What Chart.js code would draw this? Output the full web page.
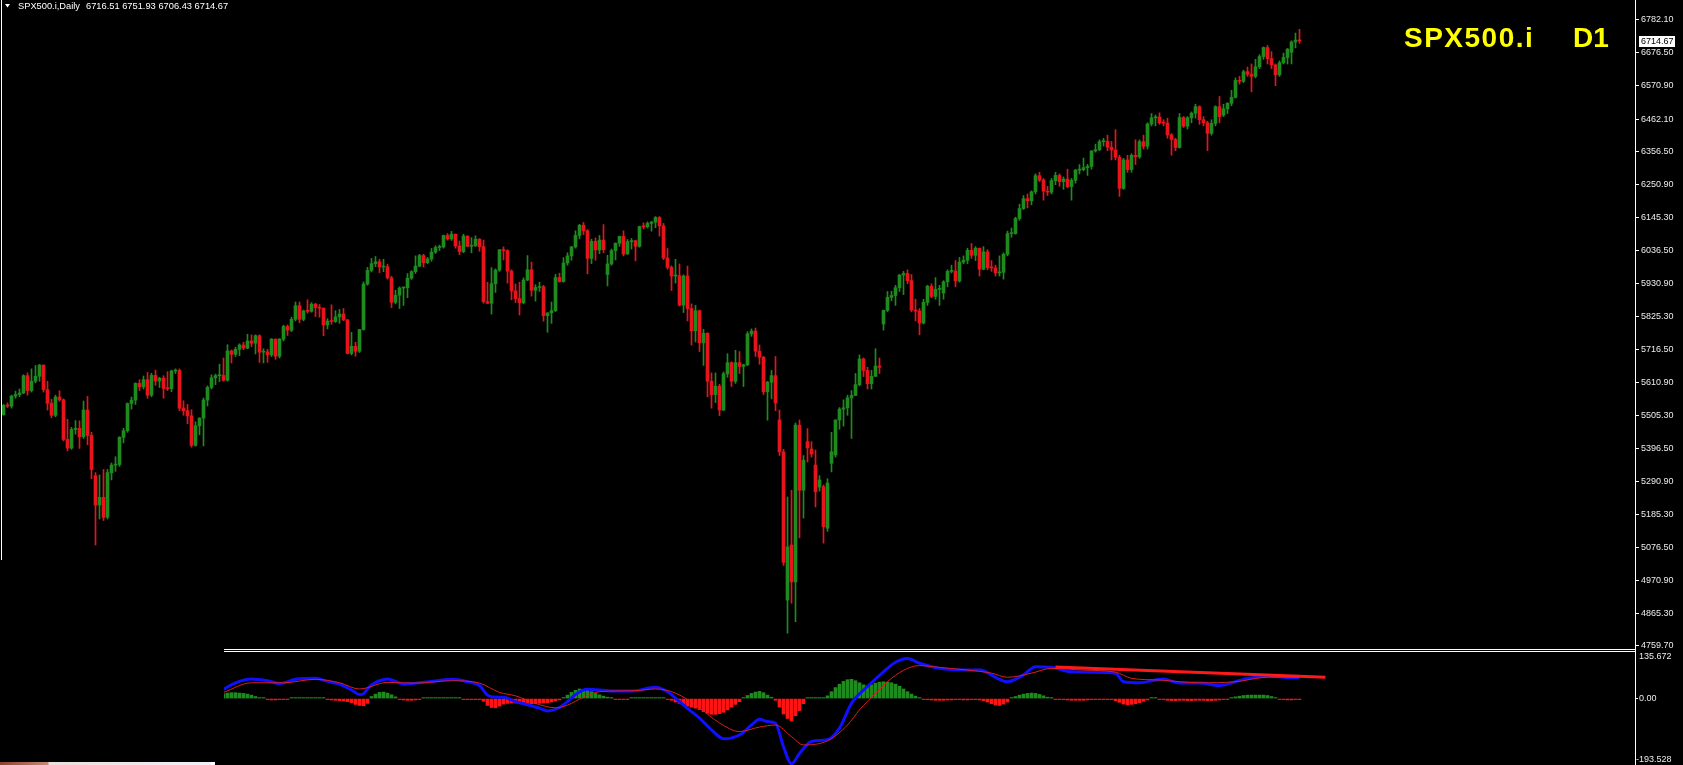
<!DOCTYPE html>
<html>
<head>
<meta charset="utf-8">
<title>SPX500.i Daily</title>
<script src="https://cdn.jsdelivr.net/npm/chart.js@4.4.1/dist/chart.umd.min.js"></script>
<style>
  html, body { margin: 0; padding: 0; background: #000; }
  body { width: 1683px; height: 765px; position: relative; overflow: hidden; }
  canvas { position: absolute; display: block; }
  #main { left: 0; top: 0; }
  #macd { left: 224px; top: 652px; }
  .line { position: absolute; background: #fff; }
  #task { position: absolute; left: 0; top: 762px; width: 215px; height: 3px;
    background: linear-gradient(90deg, #8e4030 0, #c48a78 48px, #e9dfda 49px, #eef0f8 211px, #fff 211px); }
</style>
</head>
<body>
<canvas id="main" width="1683" height="648"></canvas>
<canvas id="macd" width="1459" height="113"></canvas>
<div class="line" style="left:1px;top:0;width:1px;height:560px"></div>
<div class="line" style="left:224px;top:649px;width:1412px;height:1px"></div>
<div class="line" style="left:224px;top:651px;width:1412px;height:1px"></div>
<div class="line" style="left:1635px;top:0;width:1px;height:765px"></div>
<div id="task"></div>
<script>
// SPX500.i D1 + MACD, MT4 look
const symbol = 'SPX500.i';
const period = 'Daily';
const tf = 'D1';

const priceTicks = [6782.10, 6676.50, 6570.90, 6462.10, 6356.50, 6250.90, 6145.30, 6036.50, 5930.90, 5825.30,
  5716.50, 5610.90, 5505.30, 5396.50, 5290.90, 5185.30, 5076.50, 4970.90, 4865.30, 4759.70];
const macdTicks = [135.672, 0, -193.528];

// daily bars, oldest first
const opens = [
  5507,5537,5535,5567,5572,5577,5633,5585,5615,5631, 5667,5588,5544,5505,5564,5555,5427,5399,5459,5463,
  5436,5522,5440,5310,5215,5240,5176,5319,5344,5346, 5434,5455,5543,5554,5608,5597,5620,5570,5634,5616,
  5625,5592,5591,5648,5650,5528,5520,5503,5408,5471, 5496,5554,5595,5626,5633,5634,5618,5713,5702,5718,
  5732,5722,5745,5738,5762,5709,5710,5700,5751,5696, 5751,5792,5780,5815,5859,5815,5842,5841,5864,5853,
  5851,5797,5809,5808,5823,5832,5813,5705,5728,5712, 5782,5929,5973,5995,6001,5984,5985,5949,5870,5893,
  5916,5917,5948,5969,5987,6021,5998,6010,6032,6047, 6049,6086,6075,6090,6052,6034,6084,6051,6053,6074,
  6050,5872,5867,5930,5974,6040,6037,5971,5907,5882, 5869,5942,5975,5909,5918,5920,5827,5836,5843,5950,
  5937,5997,6020,6049,6086,6119,6101,6012,6067,6039, 6071,5960,5994,6037,6061,6083,6026,6066,6069,6051,
  6115,6114,6125,6129,6144,6117,6013,5983,5955,5956, 5861,5955,5850,5778,5843,5739,5770,5615,5572,5599,
  5522,5639,5675,5615,5675,5663,5668,5768,5777,5712, 5693,5581,5612,5633,5490,5387,4908,5086,4967,5473,
  5263,5420,5396,5344,5273,5274,5140,5350,5377,5490, 5525,5529,5561,5569,5604,5687,5650,5607,5631,5664,
  5800,5844,5886,5892,5917,5958,5963,5940,5845,5842, 5803,5870,5922,5889,5912,5900,5936,5970,5971,5939,
  6000,6006,6038,6022,6045,5977,6033,5982,5981,5965, 5967,6025,6092,6092,6141,6173,6205,6198,6227,6279,
  6265,6229,6226,6263,6280,6260,6268,6244,6264,6297, 6299,6305,6309,6359,6363,6389,6390,6371,6362,6339,
  6238,6330,6299,6345,6340,6389,6374,6446,6466,6469, 6450,6449,6411,6396,6370,6467,6439,6466,6481,6502,
  6460,6450,6416,6448,6502,6475,6495,6513,6532,6587, 6584,6615,6607,6600,6631,6664,6693,6657,6637,6605,
  6644,6661,6678,6711,6716.51
];
const highs = [
  5540,5545,5570,5583,5590,5636,5642,5655,5666,5670, 5668,5615,5557,5570,5584,5558,5492,5466,5488,5487,
  5551,5566,5450,5320,5312,5330,5330,5351,5371,5436, 5463,5545,5564,5610,5620,5632,5643,5641,5651,5628,
  5633,5646,5651,5655,5655,5552,5540,5523,5484,5497, 5561,5600,5636,5638,5670,5690,5733,5716,5725,5736,
  5741,5767,5765,5765,5765,5720,5718,5753,5752,5753, 5796,5797,5822,5871,5871,5845,5878,5869,5867,5863,
  5852,5817,5862,5843,5847,5850,5815,5773,5741,5783, 5936,5983,6012,6018,6009,6009,5993,5954,5909,5920,
  5920,5963,5972,6020,6025,6025,6015,6044,6053,6055, 6087,6092,6099,6091,6068,6090,6085,6079,6085,6076,
  6071,5935,5982,5978,6040,6049,6040,5975,5929,5935, 5949,6021,6000,5927,5935,5925,5836,5871,5960,5964,
  6014,6030,6051,6101,6122,6128,6105,6074,6078,6086, 6121,6022,6042,6062,6084,6101,6073,6076,6071,6116,
  6127,6130,6132,6147,6147,6125,6044,5988,6009,5994, 5959,5987,5865,5860,5845,5783,5772,5642,5642,5605,
  5645,5704,5678,5715,5711,5670,5775,5784,5787,5732, 5695,5615,5650,5695,5522,5395,5241,5263,5480,5490,
  5375,5462,5420,5393,5310,5280,5300,5450,5490,5530, 5555,5570,5585,5640,5700,5690,5660,5650,5720,5690,
  5845,5905,5906,5925,5960,5970,5975,5960,5880,5850, 5880,5925,5930,5950,5925,5940,5975,5990,6005,6015,
  6020,6045,6060,6050,6045,6050,6040,6005,5990,6020, 6030,6100,6110,6145,6187,6215,6220,6230,6285,6290,
  6270,6245,6270,6290,6285,6275,6300,6270,6300,6315, 6336,6316,6360,6381,6395,6400,6410,6390,6428,6345,
  6335,6345,6350,6395,6395,6410,6450,6480,6475,6482, 6460,6465,6415,6400,6480,6470,6470,6485,6510,6505,
  6470,6455,6460,6505,6535,6510,6515,6555,6595,6600, 6620,6630,6640,6655,6670,6695,6700,6680,6640,6650,
  6675,6690,6715,6740,6751.93
];
const lows = [
  5505,5530,5528,5560,5565,5575,5570,5580,5610,5615, 5580,5522,5497,5500,5550,5422,5390,5395,5444,5398,
  5430,5410,5300,5086,5170,5165,5170,5296,5324,5340, 5416,5450,5525,5540,5585,5590,5560,5565,5602,5595,
  5560,5585,5581,5640,5520,5505,5478,5402,5405,5442, 5406,5535,5590,5604,5614,5615,5615,5674,5695,5698,
  5717,5720,5727,5703,5676,5674,5676,5695,5686,5690, 5745,5763,5775,5810,5804,5810,5835,5838,5824,5822,
  5762,5784,5799,5805,5802,5811,5703,5700,5696,5708, 5780,5925,5968,5985,5966,5969,5945,5853,5865,5850,
  5860,5885,5944,5963,5985,5984,5995,6003,6028,6037, 6045,6071,6070,6045,6024,6030,6050,6030,6050,6035,
  5867,5866,5832,5902,5970,6007,5932,5878,5869,5829, 5865,5940,5890,5874,5905,5809,5773,5802,5840,5935,
  5935,5990,6006,6045,6075,6089,5962,5995,6006,6027, 6030,5923,5990,6007,6051,6020,6025,6042,6004,6048,
  6107,6110,6100,6111,6084,6008,5977,5908,5932,5858, 5837,5810,5732,5742,5711,5666,5565,5528,5546,5504,
  5520,5628,5598,5608,5640,5598,5665,5760,5695,5670, 5572,5489,5558,5520,5375,5020,4801,4898,4838,5109,
  5173,5354,5370,5209,5260,5092,5130,5322,5370,5460, 5470,5505,5430,5569,5600,5630,5590,5590,5630,5640,
  5780,5840,5875,5860,5905,5895,5930,5840,5810,5765, 5800,5860,5885,5880,5860,5880,5920,5965,5920,5935,
  5995,5995,6012,6005,5955,5975,5975,5970,5955,5955, 5945,6020,6080,6090,6135,6170,6175,6185,6220,6260,
  6200,6215,6220,6250,6245,6235,6240,6200,6255,6285, 6295,6280,6300,6355,6360,6375,6360,6330,6330,6212,
  6235,6290,6290,6315,6335,6365,6365,6440,6440,6445, 6440,6400,6345,6360,6368,6435,6430,6450,6465,6445,
  6440,6360,6410,6440,6450,6470,6480,6505,6530,6575, 6580,6600,6550,6595,6625,6655,6640,6625,6570,6600,
  6640,6640,6640,6692,6706.43
];
const closes = [
  5537,5535,5567,5572,5577,5633,5585,5615,5631,5667, 5588,5544,5505,5564,5555,5427,5399,5459,5463,5436,
  5522,5440,5330,5215,5240,5175,5320,5344,5346,5434, 5455,5543,5554,5608,5597,5620,5570,5634,5616,5625,
  5592,5591,5648,5650,5528,5520,5503,5408,5471,5496, 5554,5595,5626,5633,5634,5618,5713,5702,5718,5732,
  5722,5745,5738,5762,5709,5710,5700,5751,5696,5751, 5792,5780,5815,5859,5815,5842,5841,5864,5853,5851,
  5797,5809,5808,5823,5832,5813,5705,5728,5712,5782, 5929,5973,5995,6001,5984,5985,5949,5870,5893,5916,
  5917,5948,5969,5987,6021,5998,6010,6032,6047,6049, 6086,6075,6090,6052,6034,6084,6051,6053,6074,6050,
  5872,5867,5930,5974,6040,6037,5971,5907,5882,5869, 5942,5975,5909,5918,5920,5827,5836,5843,5950,5937,
  5997,6020,6049,6086,6119,6101,6012,6067,6039,6071, 6040,5994,6037,6061,6083,6026,6066,6069,6051,6115,
  6114,6125,6129,6144,6117,6013,5983,5955,5956,5861, 5955,5850,5778,5843,5739,5770,5615,5572,5599,5522,
  5639,5675,5615,5675,5663,5668,5768,5777,5712,5693, 5581,5612,5633,5545,5387,5030,5080,4967,5473,5263,
  5360,5400,5380,5258,5296,5145,5286,5387,5490,5525, 5529,5561,5569,5604,5687,5650,5607,5631,5664,5660,
  5844,5886,5892,5917,5958,5963,5940,5845,5842,5803, 5870,5922,5889,5912,5914,5936,5970,5971,5939,6000,
  6006,6038,6022,6045,5977,6033,5982,5981,5965,5967, 6025,6092,6094,6141,6173,6205,6198,6227,6279,6265,
  6229,6226,6263,6280,6260,6268,6244,6264,6297,6299, 6305,6309,6359,6363,6389,6390,6371,6362,6339,6238,
  6330,6299,6345,6340,6389,6374,6446,6466,6469,6450, 6449,6411,6396,6370,6467,6439,6466,6481,6502,6460,
  6450,6416,6448,6502,6470,6495,6513,6532,6587,6584, 6615,6607,6600,6631,6664,6693,6657,6637,6605,6644,
  6661,6688,6711,6717,6714.67
];

// MACD main (blue) and signal (red), read at bar positions
const macdX = [55, 58, 62, 66, 69, 73, 78, 81, 84, 87, 89, 90, 91, 92, 94, 96, 98, 100, 103, 108, 112, 116, 119, 121,
  123, 125, 128, 131, 134, 136, 139, 141, 143, 146, 149, 153, 158, 161, 163, 166, 169, 172, 174, 177, 180, 184, 187,
  189, 191, 193, 195, 197, 199, 202, 206, 209, 212, 216, 220, 223, 226, 229, 234, 239, 244, 249, 251, 255, 258, 262,
  267, 273, 278, 280, 284, 290, 294, 299, 304, 310, 316, 322, 324];
const macdMain = [27, 46, 57, 52, 44, 56, 59, 50, 42, 25, 12, 14, 28, 40, 52, 57, 50, 42, 45, 51, 56, 49, 38, 10,
  4, 4, -9, -18, -28, -36, -26, -9, 12, 27, 25, 22, 23, 30, 33, 20, -9, -38, -57, -91, -117, -106, -77,
  -60, -67, -72, -140, -190, -160, -125, -120, -86, -14, 35, 78, 106, 117, 103, 88, 83, 83, 56, 49, 69, 93, 91,
  78, 77, 74, 49, 46, 57, 45, 45, 38, 56, 66, 61, 61];
const sigX = [55, 62, 70, 78, 84, 89, 96, 103, 112, 119, 124, 128, 133, 138, 141, 145, 149, 158, 163, 168, 174, 179,
  184, 189, 193, 197, 200, 206, 211, 214, 218, 222, 226, 229, 234, 241, 247, 251, 257, 262, 270, 278, 282, 289,
  299, 308, 316, 324];
const sigLine = [18, 46, 46, 56, 46, 28, 47, 45, 52, 45, 18, 8, -14, -27, -19, 4, 20, 23, 28, 16, -27, -71,
  -96, -83, -77, -111, -135, -123, -77, -33, 15, 59, 88, 96, 91, 83, 74, 62, 74, 88, 83, 77, 59, 54,
  46, 49, 62, 62];
const histStart = 55;
const hist = [
  14,16,17,17,16,15,13,10,6, 2,1, -3,-4,-4,-3,-3,-2, 1,2,2,2,2,1,2,1,1,
  -3,-4,-5,-6,-7,-9,-12,-17,-20,-21,-14, 6,13,18,19,16,11,5, -2,-4,-5,-5,-4,-2,
  1,1,2,2,2,2,2,1,2,1, -1,-2,-3,-3,-3,-8, -20,-26,-27,-22,
  -16,-14,-13,-13,-15,-16,-16,-15,-15,-14,-13,-12,-10,-7,-4,
  3,10,18,24,28,27,24,20,15,11,7,4,2, -1,-2,-2,-1,1,2,2,2,2,1,2,2,1,-1,
  -5,-10,-14,-18,-22,-25,-28, -32,-38,-43,-46,-46,-44,-40,-33,-25,-17,-9,
  3,9,15,19,21,17,10,4, -5,-25,-45,-58,-65,-50,-35,-15, 2,3,3,2,2,
  8,20,32,42,50,55,56,52,46,40,37,40,45,48,49,48,46,42,36,28,20,13,7,3,
  -2,-3,-4,-5,-5,-5,-4,-4,-3,-3,-4,-4,-3,-3,-4, -6,-10,-15,-19,-20,-16,-10,
  2,6,10,13,15,16,15,12,8,4, 1,-1,-1, -3,-4,-5,-5,-5,-5,-4,-3, -1,-1,-2,-2,-3,
  -6,-11,-16,-18,-17,-15,-12,-8,-4, 1,1,-1,-2,
  -5,-6,-6,-5,-5,-6,-6,-5,-5,-5,-6,-6,-5,-4,-2,-1,
  2,5,7,9,10,10,10,10,10,9,6,3, -1,-3,-4,-4,-3,-3
];
const trendX = [263, 330.5];
const trendY = [92, 62];

const UP = '#1f8b1f';
const DOWN = '#e8141c';
const AXIS_FONT = { family: 'Liberation Sans', size: 9 };

const fixWidth = (s) => { s.width = 48; s.paddingTop = 0; s.paddingBottom = 0; };
const bars = closes.map((_, i) => i);
const barColor = bars.map((i) => (closes[i] >= opens[i] ? UP : DOWN));

const overlay = {
  id: 'overlay',
  afterDraw(chart) {
    const { ctx, chartArea, scales } = chart;
    const last = closes.length - 1;
    ctx.save();
    ctx.fillStyle = '#ffffff';
    ctx.beginPath();
    ctx.moveTo(5, 4); ctx.lineTo(10, 4); ctx.lineTo(7.5, 7.5);
    ctx.closePath();
    ctx.fill();
    ctx.font = '9.3px "Liberation Sans"';
    ctx.textBaseline = 'middle';
    const ohlc = [opens[last], highs[last], lows[last], closes[last]].map((v) => v.toFixed(2)).join(' ');
    ctx.fillText(`${symbol},${period}`, 18, 6);
    ctx.fillText(ohlc, 86, 6);

    // yellow symbol / timeframe caption
    ctx.fillStyle = '#ffff00';
    ctx.font = 'bold 28px "Liberation Sans"';
    ctx.textBaseline = 'alphabetic';
    ctx.letterSpacing = '1.5px';
    ctx.fillText(symbol, 1404, 47);
    ctx.letterSpacing = '0px';
    ctx.fillText(tf, 1573, 47);

    // last price tag on the axis
    const y = Math.round(scales.y.getPixelForValue(closes[last]));
    ctx.fillStyle = '#ffffff';
    ctx.fillRect(chartArea.right + 4, y - 5, 36, 11);
    ctx.fillStyle = '#000000';
    ctx.font = '9px "Liberation Sans"';
    ctx.textBaseline = 'middle';
    ctx.fillText(closes[last].toFixed(2), chartArea.right + 6, y + 0.5);
    ctx.restore();
  },
};

new Chart(document.getElementById('main'), {
  type: 'bar',
  data: {
    datasets: [
      {
        data: bars.map((i) => ({ x: i, y: [lows[i], highs[i]] })),
        backgroundColor: barColor,
        barThickness: 1,
        grouped: false,
        order: 2,
      },
      {
        data: bars.map((i) => ({ x: i, y: [opens[i], closes[i]] })),
        backgroundColor: barColor,
        barThickness: 3,
        minBarLength: 1,
        grouped: false,
        order: 1,
      },
    ],
  },
  options: {
    responsive: false,
    animation: false,
    events: [],
    layout: { padding: 0 },
    plugins: { legend: { display: false }, tooltip: { enabled: false } },
    scales: {
      x: { type: 'linear', min: -0.875, max: 407.875, offset: false, display: false },
      y: {
        position: 'right',
        min: 4753.2,
        max: 6846.7,
        afterBuildTicks: (s) => { s.ticks = priceTicks.map((v) => ({ value: v })); },
        afterFit: fixWidth,
        border: { display: false },
        grid: { drawOnChartArea: false, tickLength: 4, tickColor: '#ffffff' },
        ticks: { color: '#ececec', font: AXIS_FONT, padding: 2, callback: (v) => Number(v).toFixed(2) },
      },
    },
  },
  plugins: [overlay],
});

const macdLabels = {
  id: 'macdLabels',
  afterDraw(chart) {
    const { ctx, chartArea, scales } = chart;
    ctx.save();
    ctx.fillStyle = '#ececec';
    ctx.font = '9px "Liberation Sans"';
    ctx.textBaseline = 'middle';
    ctx.fillText(macdTicks[0].toFixed(3), chartArea.right + 4, scales.y.getPixelForValue(macdTicks[0]) + 5);
    ctx.fillText(macdTicks[2].toFixed(3), chartArea.right + 1, scales.y.getPixelForValue(macdTicks[2]) - 5);
    ctx.restore();
  },
};

new Chart(document.getElementById('macd'), {
  type: 'bar',
  data: {
    datasets: [
      {
        type: 'line',
        data: trendX.map((x, i) => ({ x, y: trendY[i] })),
        borderColor: '#ff1a1a',
        borderWidth: 3,
        pointRadius: 0,
        order: 1,
      },
      {
        type: 'line',
        data: sigX.map((x, i) => ({ x, y: sigLine[i] })),
        borderColor: '#d82020',
        borderWidth: 1,
        pointRadius: 0,
        cubicInterpolationMode: 'monotone',
        order: 2,
      },
      {
        type: 'line',
        data: macdX.map((x, i) => ({ x, y: macdMain[i] })),
        borderColor: '#1010ff',
        borderWidth: 3,
        pointRadius: 0,
        cubicInterpolationMode: 'monotone',
        order: 3,
      },
      {
        data: hist.map((v, k) => ({ x: histStart + k, y: v })),
        backgroundColor: hist.map((v) => (v >= 0 ? '#1f8b1f' : '#ff1414')),
        barThickness: 3,
        minBarLength: 1,
        grouped: false,
        order: 4,
      },
    ],
  },
  options: {
    responsive: false,
    animation: false,
    events: [],
    layout: { padding: 0 },
    plugins: { legend: { display: false }, tooltip: { enabled: false } },
    scales: {
      x: { type: 'linear', min: 55.125, max: 407.875, offset: false, display: false },
      y: {
        position: 'right',
        min: macdTicks[2],
        max: macdTicks[0],
        afterBuildTicks: (s) => { s.ticks = [{ value: macdTicks[1] }]; },
        afterFit: fixWidth,
        border: { display: false },
        grid: { drawOnChartArea: false, tickLength: 3, tickColor: '#ffffff' },
        ticks: { color: '#ececec', font: AXIS_FONT, padding: 1, callback: (v) => Number(v).toFixed(2) },
      },
    },
  },
  plugins: [macdLabels],
});
</script>
</body>
</html>
